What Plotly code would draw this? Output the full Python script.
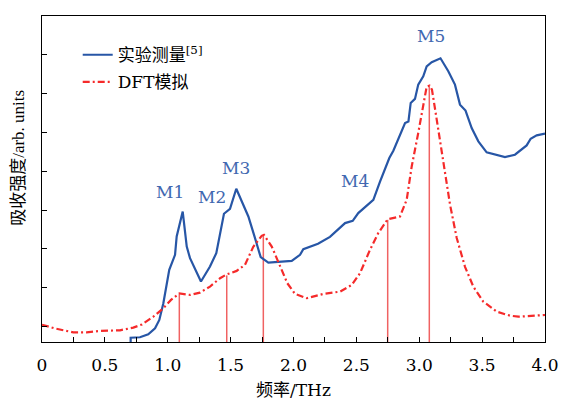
import plotly.graph_objects as go

# Experimental absorption (blue solid)
exp_freq = [0.705, 0.705, 0.779, 0.845, 0.899, 0.933, 0.965, 1.012, 1.058, 1.071, 1.119,
            1.151, 1.177, 1.264, 1.336, 1.386, 1.447, 1.495, 1.545, 1.641, 1.694, 1.739,
            1.800, 1.986, 2.052, 2.078, 2.195, 2.290, 2.410, 2.471, 2.515, 2.635, 2.688,
            2.720, 2.762, 2.794, 2.887, 2.914, 2.932, 2.966, 2.992, 3.032, 3.059, 3.099,
            3.169, 3.231, 3.284, 3.324, 3.368, 3.417, 3.470, 3.536, 3.682, 3.761, 3.854,
            3.886, 3.934, 4.000]
exp_int = [0.000, 0.055, 0.061, 0.099, 0.177, 0.284, 0.499, 0.929, 1.123, 1.359, 1.681,
           1.230, 1.080, 0.779, 0.972, 1.145, 1.652, 1.716, 1.974, 1.617, 1.338, 1.093,
           1.023, 1.045, 1.123, 1.196, 1.265, 1.355, 1.532, 1.561, 1.661, 1.832, 2.065,
           2.197, 2.370, 2.465, 2.822, 2.842, 3.080, 3.132, 3.316, 3.423, 3.552, 3.604,
           3.655, 3.488, 3.316, 3.058, 2.981, 2.757, 2.585, 2.443, 2.383, 2.413, 2.533,
           2.619, 2.662, 2.684]

# DFT simulated absorption (red dash-dot)
dft_freq = [0.000, 0.103, 0.249, 0.355, 0.461, 0.620, 0.726, 0.795, 0.885, 0.965, 1.026,
            1.092, 1.177, 1.256, 1.336, 1.416, 1.469, 1.548, 1.614, 1.680, 1.747, 1.765,
            1.827, 1.893, 1.951, 2.012, 2.105, 2.237, 2.370, 2.463, 2.529, 2.608, 2.674,
            2.749, 2.847, 2.900, 2.940, 2.992, 3.032, 3.059, 3.082, 3.101, 3.139, 3.191,
            3.245, 3.298, 3.364, 3.430, 3.509, 3.616, 3.722, 3.788, 3.881, 4.000]
dft_int = [0.223, 0.174, 0.125, 0.125, 0.142, 0.151, 0.185, 0.226, 0.326, 0.435, 0.542,
           0.626, 0.606, 0.636, 0.714, 0.822, 0.871, 0.916, 0.994, 1.226, 1.368, 1.381,
           1.230, 0.972, 0.757, 0.619, 0.564, 0.619, 0.649, 0.735, 0.886, 1.187, 1.403,
           1.581, 1.617, 1.832, 2.262, 2.693, 3.058, 3.290, 3.303, 3.252, 2.865, 2.348,
           1.768, 1.340, 0.968, 0.714, 0.520, 0.391, 0.339, 0.326, 0.339, 0.348]

# DFT mode positions (vertical sticks)
mode_freq = [1.092, 1.469, 1.760, 2.749, 3.080]
mode_int = [0.619, 0.858, 1.368, 1.574, 3.290]

# Peak labels
peak_labels = ["M1", "M2", "M3", "M4", "M5"]
peak_label_x = [1.018, 1.352, 1.543, 2.489, 3.093]
peak_label_y = [1.935, 1.871, 2.245, 2.068, 3.948]

x_ticks = [0, 0.5, 1.0, 1.5, 2.0, 2.5, 3.0, 3.5, 4.0]
x_tick_text = ["0", "0.5", "1.0", "1.5", "2.0", "2.5", "3.0", "3.5", "4.0"]

FONT = "DejaVu Serif, Noto Sans CJK SC, serif"
FONT_NARROW = "Liberation Serif, Noto Sans CJK SC, serif"
BLUE = "#2756a6"
RED = "#f52a2a"
STICK = "#f06262"
LABEL = "#4167b0"

fig = go.Figure()

stick_x, stick_y = [], []
for f, v in zip(mode_freq, mode_int):
    stick_x += [f, f, None]
    stick_y += [0, v, None]
fig.add_trace(go.Scatter(x=stick_x, y=stick_y, mode="lines",
                         line=dict(color=STICK, width=1.5), showlegend=False,
                         hoverinfo="skip"))

fig.add_trace(go.Scatter(x=exp_freq, y=exp_int, mode="lines",
                         name="实验测量<sup>[5]</sup>", legendgroup="a",
                         line=dict(color=BLUE, width=2.2)))
fig.add_trace(go.Scatter(x=dft_freq, y=dft_int, mode="lines",
                         name="DFT模拟", legendgroup="b",
                         line=dict(color=RED, width=2.2, dash="7px,3px,2px,3px")))

for t, px, py in zip(peak_labels, peak_label_x, peak_label_y):
    fig.add_annotation(x=px, y=py, text=t, showarrow=False,
                       xanchor="center", yanchor="middle",
                       font=dict(family=FONT, size=17, color=LABEL))

fig.add_annotation(xref="paper", yref="paper", x=0.5, y=-0.147, text="频率/THz",
                   xanchor="center", yanchor="middle",
                   showarrow=False, font=dict(family=FONT, size=17, color="black"))
fig.add_annotation(xref="paper", yref="paper", x=-0.047, y=0.566,
                   text="吸收强度/arb. units", textangle=-90,
                   xanchor="center", yanchor="middle",
                   showarrow=False, font=dict(family=FONT_NARROW, size=17, color="black"))

fig.update_layout(
    width=561, height=401,
    margin=dict(l=42, r=16, t=16, b=59, autoexpand=False),
    paper_bgcolor="white", plot_bgcolor="white",
    font=dict(family=FONT, size=17, color="black"),
    legend=dict(x=0.071, y=0.935, xanchor="left", yanchor="top",
                bgcolor="rgba(0,0,0,0)", tracegroupgap=2,
                font=dict(family=FONT, size=17)),
    xaxis=dict(range=[0, 4.0], tickvals=x_ticks, ticktext=x_tick_text,
               automargin=False,
               ticks="inside", ticklen=5, tickwidth=1, tickcolor="black",
               ticklabelstandoff=7,
               minor=dict(dtick=0.25, tick0=0, ticks="inside", ticklen=5,
                          tickcolor="black"),
               showline=True, linecolor="black", linewidth=1.3, mirror=True,
               showgrid=False, zeroline=False,
               tickfont=dict(family=FONT, size=17)),
    yaxis=dict(range=[0, 4.2], tick0=0.2, dtick=0.5, showticklabels=False,
               automargin=False,
               ticks="inside", ticklen=5, tickwidth=1, tickcolor="black",
               showline=True, linecolor="black", linewidth=1.3, mirror=True,
               showgrid=False, zeroline=False),
)

fig.write_html("out.html", config={"displayModeBar": False},
               post_script="document.body.style.margin='0';")
